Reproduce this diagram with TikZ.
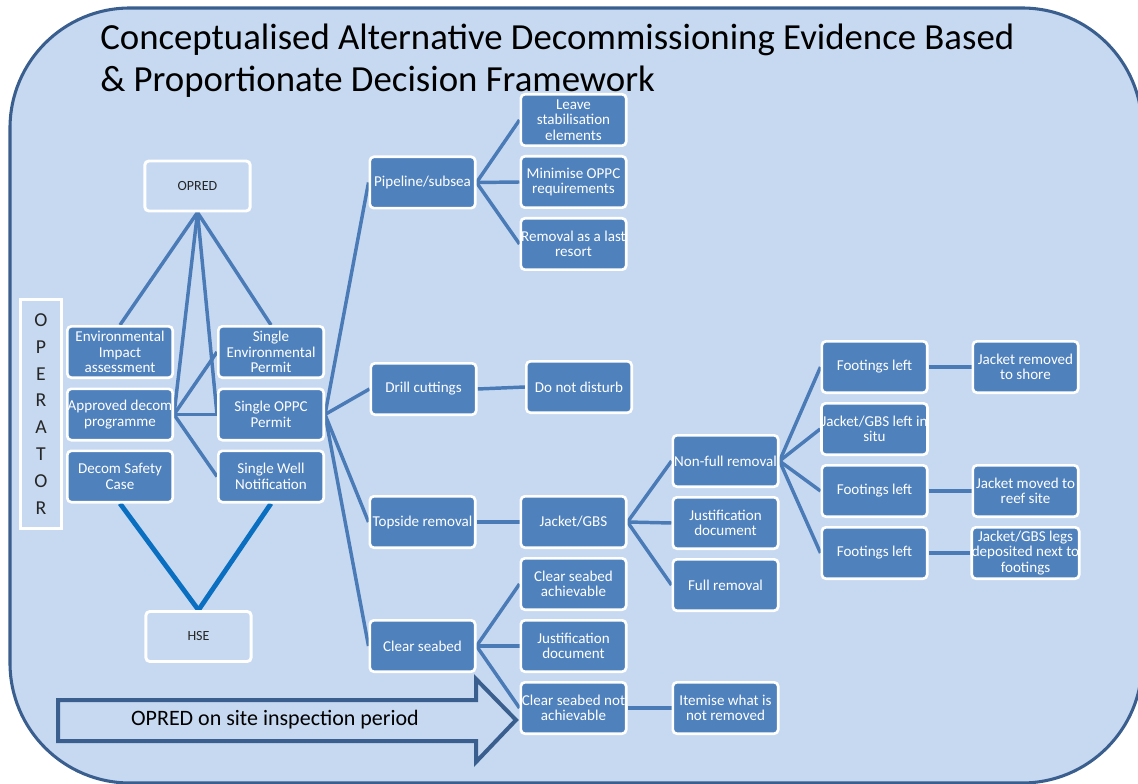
\documentclass[tikz,border=0pt]{standalone}
\usepackage{fontspec}
\setmainfont{Carlito}
\pgfdeclarelayer{bg}
\pgfsetlayers{bg,main}

\definecolor{bgblue}{HTML}{C6D9F1}
\definecolor{rimblue}{HTML}{3A5F8E}
\definecolor{boxblue}{HTML}{4F81BD}
\definecolor{linkblue}{HTML}{4A7BB7}
\definecolor{hseblue}{HTML}{0A6FC0}

\tikzset{
  box/.style={draw=white, line width=2pt, fill=boxblue, rounded corners=3pt,
    minimum width=79pt, minimum height=38.5pt, inner xsep=0pt, inner ysep=0pt,
    align=center, text=white, font=\fontsize{11.3}{11.6}\selectfont},
  palebox/.style={draw=white, line width=2.2pt, fill=bgblue, rounded corners=3pt,
    minimum width=79pt, minimum height=37.5pt, inner sep=0pt,
    align=center, text=black!85, font=\fontsize{10.5}{11.6}\selectfont},
  link/.style={draw=linkblue, line width=2.6pt},
  hselink/.style={draw=hseblue, line width=3.6pt},
  rim/.style={draw=rimblue, line width=2.3pt, fill=bgblue},
  arrowrim/.style={draw=rimblue, line width=3pt, fill=bgblue, line join=miter}
}

\begin{document}
\begin{tikzpicture}[x=0.75pt, y=-0.75pt]
\useasboundingbox (0,0) rectangle (1138,784);
\clip (0,0) rectangle (1138,784);

% frame and timeline arrow
\begin{pgfonlayer}{bg}
  \draw[rim, rounded corners=90pt] (10,8) rectangle (1142,783);
  \draw[arrowrim] (58,700) -- (476,700) -- (476,679) -- (516,720) -- (476,762)
    -- (476,741) -- (58,741) -- cycle;
\end{pgfonlayer}

\node[anchor=north west, align=left, inner sep=0pt,
  font=\fontsize{27.6}{31.5}\selectfont] (title) at (100,24)
  {Conceptualised Alternative Decommissioning Evidence Based\\
   \& Proportionate Decision Framework};

\node[font=\fontsize{16.5}{20}\selectfont] (inspect) at (275,720)
  {OPRED on site inspection period};

% regulators and operator
\node[palebox] (opred) at (197.5,186) {OPRED};
\node[palebox] (hse) at (198.5,636.5) {HSE};
\node[palebox, rounded corners=0pt, minimum width=31pt, minimum height=172pt,
  font=\fontsize{14.8}{20.2}\selectfont] (operator) at (41,414)
  {O\\P\\E\\R\\A\\T\\O\\R};

% operator submissions
\node[box] (eia) at (120,352) {Environmental\\Impact\\assessment};
\node[box] (apd) at (120,414.5) {Approved decom\\programme};
\node[box] (dsc) at (120,476.5) {Decom Safety\\Case};
\node[box] (sep) at (271,352) {Single\\Environmental\\Permit};
\node[box] (oppc) at (271,414.5) {Single OPPC\\Permit};
\node[box] (swn) at (271,476.5) {Single Well\\Notification};

% asset categories
\node[box] (pipe) at (422.5,182.5) {Pipeline/subsea};
\node[box] (drill) at (423.5,389) {Drill cuttings};
\node[box] (topside) at (422.5,522) {Topside removal};
\node[box] (clear) at (422.5,646) {Clear seabed};

\node[box] (leave) at (573.5,120) {Leave\\stabilisation\\elements};
\node[box] (minim) at (573.5,182) {Minimise OPPC\\requirements};
\node[box] (lastres) at (573.5,244) {Removal as a last\\resort};
\node[box] (dnd) at (579,387) {Do not disturb};
\node[box] (jacket) at (573.5,522) {Jacket/GBS};
\node[box] (csa) at (573.5,584) {Clear seabed\\achievable};
\node[box] (jdlow) at (573.5,646) {Justification\\document};
\node[box] (csna) at (573.5,708) {Clear seabed not\\achievable};
\node[box] (item) at (725.5,708) {Itemise what is\\not removed};

\node[box] (nfr) at (725.5,461) {Non-full removal};
\node[box] (jdmid) at (725.5,523) {Justification\\document};
\node[box] (full) at (725.5,585) {Full removal};

\node[box] (foot1) at (874.5,367) {Footings left};
\node[box] (situ) at (874.5,429) {Jacket/GBS left in\\situ};
\node[box] (foot2) at (874.5,491) {Footings left};
\node[box] (foot3) at (874.5,553) {Footings left};

\node[box] (shore) at (1025.5,367) {Jacket removed\\to shore};
\node[box] (reef) at (1025.5,491) {Jacket moved to\\reef site};
\node[box] (legs) at (1025.5,553) {Jacket/GBS legs\\deposited next to\\footings};

% connectors
\begin{pgfonlayer}{bg}
  \draw[link] (opred.south) -- (eia.north);
  \draw[link] (opred.south) -- (apd.east);
  \draw[link] (opred.south) -- (oppc.west);
  \draw[link] (opred.south) -- (sep.north);
  \draw[link] (apd.east) -- (sep.west);
  \draw[link] (apd.east) -- (oppc.west);
  \draw[link] (apd.east) -- (swn.west);
  \draw[hselink] (hse.north) -- (dsc.south);
  \draw[hselink] (hse.north) -- (swn.south);

  \foreach \t in {pipe,drill,topside,clear}
    \draw[link] (oppc.east) -- (\t.west);
  \foreach \t in {leave,minim,lastres}
    \draw[link] (pipe.east) -- (\t.west);
  \draw[link] (drill.east) -- (dnd.west);
  \draw[link] (topside.east) -- (jacket.west);
  \foreach \t in {nfr,jdmid,full}
    \draw[link] (jacket.east) -- (\t.west);
  \foreach \t in {foot1,situ,foot2,foot3}
    \draw[link] (nfr.east) -- (\t.west);
  \draw[link] (foot1.east) -- (shore.west);
  \draw[link] (foot2.east) -- (reef.west);
  \draw[link] (foot3.east) -- (legs.west);
  \foreach \t in {csa,jdlow,csna}
    \draw[link] (clear.east) -- (\t.west);
  \draw[link] (csna.east) -- (item.west);
\end{pgfonlayer}
\end{tikzpicture}
\end{document}
